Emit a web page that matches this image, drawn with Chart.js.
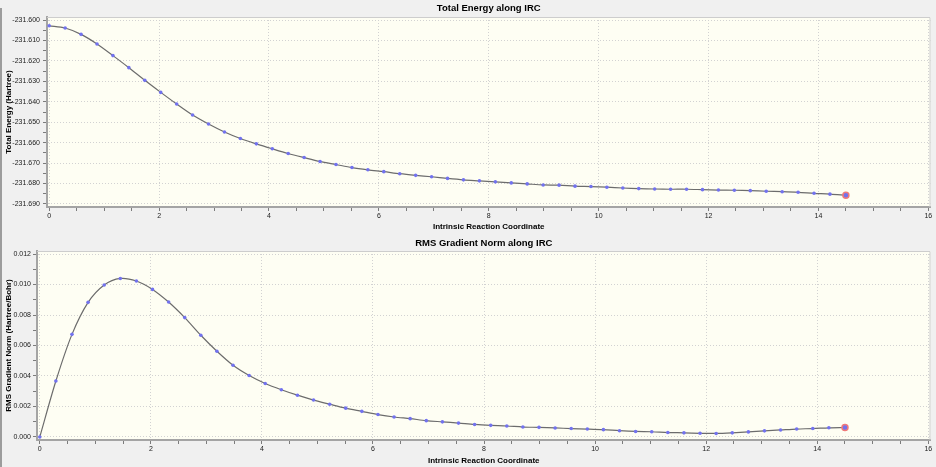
<!DOCTYPE html>
<html>
<head>
<meta charset="utf-8">
<script src="https://cdn.jsdelivr.net/npm/chart.js@4.4.1/dist/chart.umd.min.js"></script>
<style>
    body { margin: 0; background: #f0f0f0; width: 936px; height: 467px; overflow: hidden; position: relative; }
    #borde { position: absolute; left: 0; top: 8px; width: 2px; height: 459px; background: #9c9c9c; }
    #graficoEnergia { position: absolute; left: 0; top: 0; }
    #graficoGradiente { position: absolute; left: 0; top: 232px; }
</style>
</head>
<body>
<div id="borde"></div>
<canvas id="graficoEnergia" width="936" height="232"></canvas>
<canvas id="graficoGradiente" width="936" height="235"></canvas>
<script>
// coordenada de reaccion (IRC) de cada punto
var coordenadas = [0.00, 0.29, 0.58, 0.87, 1.16, 1.45, 1.74, 2.03, 2.32, 2.61,
    2.90, 3.19, 3.48, 3.77, 4.06, 4.35, 4.64, 4.93, 5.22, 5.51,
    5.80, 6.09, 6.38, 6.67, 6.96, 7.25, 7.54, 7.83, 8.12, 8.41,
    8.70, 8.99, 9.28, 9.57, 9.86, 10.15, 10.44, 10.73, 11.02, 11.31,
    11.60, 11.89, 12.18, 12.47, 12.76, 13.05, 13.34, 13.63, 13.92, 14.21,
    14.50];

var energias = [-231.6028, -231.6039, -231.6070, -231.6117, -231.6174, -231.6233, -231.6295, -231.6354, -231.6411, -231.6465,
    -231.6509, -231.6548, -231.6580, -231.6606, -231.6630, -231.6653, -231.6673, -231.6692, -231.6707, -231.6722,
    -231.6733, -231.6742, -231.6752, -231.6760, -231.6767, -231.6775, -231.6782, -231.6787, -231.6792, -231.6797,
    -231.6802, -231.6807, -231.6808, -231.6813, -231.6815, -231.6818, -231.6822, -231.6825, -231.6827, -231.6828,
    -231.6828, -231.6830, -231.6832, -231.6833, -231.6835, -231.6838, -231.6840, -231.6843, -231.6848, -231.6852,
    -231.6858];

var gradientes = [0.00000, 0.00367, 0.00673, 0.00883, 0.00997, 0.01040, 0.01023, 0.00968, 0.00885, 0.00783,
    0.00667, 0.00562, 0.00470, 0.00403, 0.00351, 0.00310, 0.00274, 0.00242, 0.00215, 0.00189,
    0.00168, 0.00147, 0.00131, 0.00120, 0.00107, 0.00099, 0.00091, 0.00082, 0.00076, 0.00072,
    0.00065, 0.00063, 0.00059, 0.00055, 0.00052, 0.00048, 0.00041, 0.00036, 0.00034, 0.00029,
    0.00027, 0.00024, 0.00023, 0.00027, 0.00033, 0.00040, 0.00046, 0.00052, 0.00055, 0.00060,
    0.00062];

var xTicks = [0, 2, 4, 6, 8, 10, 12, 14, 16];
var energiaTicks = [-231.690, -231.680, -231.670, -231.660, -231.650, -231.640, -231.630, -231.620, -231.610, -231.600];
var gradienteTicks = [0.000, 0.002, 0.004, 0.006, 0.008, 0.010, 0.012];

var fuente = '"Liberation Sans", Arial, sans-serif';

// relleno crema del area, marco y titulo centrado sobre el area
var marcoPlugin = {
    id: 'marco',
    beforeDraw: function (chart) {
        var a = chart.chartArea, ctx = chart.ctx;
        ctx.save();
        ctx.fillStyle = '#fefef3';
        ctx.fillRect(a.left, a.top, a.right - a.left, a.bottom - a.top);
        ctx.restore();
    },
    afterDraw: function (chart, args, opts) {
        var a = chart.chartArea, ctx = chart.ctx;
        ctx.save();
        ctx.strokeStyle = '#cdcdcd';
        ctx.lineWidth = 1;
        ctx.beginPath();
        ctx.moveTo(a.left, a.top + 0.5);
        ctx.lineTo(a.right - 0.5, a.top + 0.5);
        ctx.lineTo(a.right - 0.5, a.bottom);
        ctx.stroke();
        ctx.font = 'bold 9.5px ' + fuente;
        ctx.fillStyle = '#000';
        ctx.textAlign = 'center';
        ctx.textBaseline = 'middle';
        ctx.fillText(opts.texto, (a.left + a.right) / 2, opts.y);
        ctx.restore();
    }
};

function conMenores(mayores, paso) {
    var lista = [];
    for (var i = 0; i < mayores.length - 1; i++) {
        var n = Math.round((mayores[i + 1] - mayores[i]) / paso);
        for (var j = 0; j < n; j++) lista.push({ value: mayores[i] + j * paso });
    }
    lista.push({ value: mayores[mayores.length - 1] });
    return lista;
}

function esMayor(valor, mayores) {
    return mayores.some(function (m) { return Math.abs(m - valor) < 1e-9; });
}

function crearGrafico(id, valores, cfg) {
    var ultimo = valores.length - 1;
    var puntos = coordenadas.map(function (x, i) { return { x: x, y: valores[i] }; });
    const ctx = document.getElementById(id).getContext('2d');
    return new Chart(ctx, {
        type: 'line',
        data: {
            datasets: [{
                data: puntos,
                borderColor: '#6c6c6c',
                borderWidth: 1.2,
                tension: 0.3,
                pointRadius: function (c) { return c.dataIndex === ultimo ? 3 : 1.8; },
                pointBackgroundColor: '#7272ee',
                pointBorderColor: function (c) { return c.dataIndex === ultimo ? '#f07a7a' : '#7272ee'; },
                pointBorderWidth: function (c) { return c.dataIndex === ultimo ? 1.5 : 0; }
            }]
        },
        options: {
            responsive: false,
            animation: false,
            events: [],
            layout: { padding: { top: cfg.arriba, right: 0, left: 0, bottom: 0 } },
            plugins: {
                legend: { display: false },
                tooltip: { enabled: false },
                marco: { texto: cfg.titulo, y: cfg.tituloY }
            },
            scales: {
                x: {
                    type: 'linear',
                    min: cfg.xMin,
                    max: 16.04,
                    afterBuildTicks: function (s) { s.ticks = conMenores(xTicks, 0.5); },
                    afterFit: function (s) { s.height = cfg.altoX; s.paddingRight = 3; },
                    ticks: {
                        autoSkip: false,
                        maxRotation: 0,
                        padding: 1,
                        color: '#222',
                        font: { size: 7, family: fuente },
                        callback: function (v) { return esMayor(v, xTicks) ? String(v) : ''; }
                    },
                    grid: {
                        color: function (c) { return c.tick && esMayor(c.tick.value, xTicks) ? '#d2d2d2' : 'rgba(0,0,0,0)'; },
                        tickColor: '#7c7c7c',
                        tickLength: 4,
                        lineWidth: 1
                    },
                    border: { color: '#a4a4a4', width: 2, dash: [1, 2] },
                    title: {
                        display: true,
                        text: 'Intrinsic Reaction Coordinate',
                        color: '#000',
                        font: { size: 8, weight: 'bold', family: fuente },
                        padding: { top: 0, bottom: cfg.xTituloPad }
                    }
                },
                y: {
                    min: cfg.yMin,
                    max: cfg.yMax,
                    afterBuildTicks: function (s) { s.ticks = conMenores(cfg.yTicks, cfg.yPaso); },
                    afterFit: function (s) { s.width = cfg.anchoY; },
                    ticks: {
                        autoSkip: false,
                        padding: cfg.yPad,
                        color: '#222',
                        font: { size: 7, family: fuente },
                        callback: function (v) { return esMayor(v, cfg.yTicks) ? v.toFixed(3) : ''; }
                    },
                    grid: {
                        color: function (c) { return c.tick && esMayor(c.tick.value, cfg.yTicks) ? '#d2d2d2' : 'rgba(0,0,0,0)'; },
                        tickColor: '#7c7c7c',
                        tickLength: 4,
                        lineWidth: 1
                    },
                    border: { color: '#a4a4a4', width: 2, dash: [1, 2] },
                    title: {
                        display: true,
                        text: cfg.yTitulo,
                        color: '#000',
                        font: { size: 8, weight: 'bold', family: fuente },
                        padding: { top: 4, bottom: 0 }
                    }
                }
            }
        },
        plugins: [marcoPlugin]
    });
}

crearGrafico('graficoEnergia', energias, {
    titulo: 'Total Energy along IRC',
    tituloY: 8,
    arriba: 17,
    altoX: 25,
    xTituloPad: 0.5,
    xMin: -0.04,
    yMin: -231.6915,
    yMax: -231.5985,
    yTicks: energiaTicks,
    yPaso: 0.005,
    anchoY: 47,
    yPad: 3,
    yTitulo: 'Total Energy (Hartree)'
});

crearGrafico('graficoGradiente', gradientes, {
    titulo: 'RMS Gradient Norm along IRC',
    tituloY: 11,
    arriba: 19,
    altoX: 27,
    xTituloPad: 1,
    xMin: -0.05,
    yMin: -0.0002,
    yMax: 0.0122,
    yTicks: gradienteTicks,
    yPaso: 0.001,
    anchoY: 37,
    yPad: 2,
    yTitulo: 'RMS Gradient Norm (Hartree/Bohr)'
});
</script>
</body>
</html>
